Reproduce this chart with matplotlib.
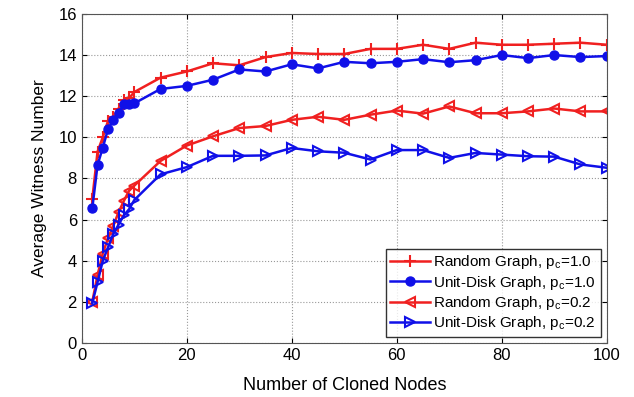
import matplotlib.pyplot as plt
import numpy as np

plt.rcParams['font.family'] = ['Liberation Sans', 'DejaVu Sans']

# number of cloned nodes
nodes = [2, 3, 4, 5, 6, 7, 8, 9, 10, 15, 20, 25, 30, 35, 40, 45, 50,
         55, 60, 65, 70, 75, 80, 85, 90, 95, 100]

rand_10 = [7.0, 9.3, 10.0, 10.8, 11.0, 11.4, 11.8, 11.9, 12.2, 12.9, 13.2, 13.6, 13.5, 13.9,
           14.1, 14.05, 14.05, 14.3, 14.3, 14.5, 14.3, 14.6, 14.5, 14.5, 14.55, 14.6, 14.5]
disk_10 = [6.55, 8.65, 9.5, 10.4, 10.85, 11.2, 11.6, 11.6, 11.65, 12.35, 12.5, 12.8, 13.3, 13.2,
           13.55, 13.35, 13.67, 13.6, 13.67, 13.8, 13.65, 13.75, 14.0, 13.85, 14.0, 13.9, 13.95]
rand_02 = [2.0, 3.3, 4.35, 5.1, 5.7, 6.35, 6.9, 7.4, 7.65, 8.85, 9.6, 10.05, 10.45, 10.55,
           10.85, 11.0, 10.85, 11.1, 11.3, 11.15, 11.5, 11.17, 11.17, 11.26, 11.4, 11.26, 11.26]
disk_02 = [1.95, 2.95, 4.0, 4.65, 5.3, 5.75, 6.2, 6.5, 6.95, 8.2, 8.55, 9.1, 9.1, 9.12,
           9.48, 9.32, 9.25, 8.92, 9.38, 9.38, 9.0, 9.24, 9.16, 9.08, 9.06, 8.68, 8.52]

labels = [r'Random Graph, p$_\mathregular{c}$=1.0',
          r'Unit-Disk Graph, p$_\mathregular{c}$=1.0',
          r'Random Graph, p$_\mathregular{c}$=0.2',
          r'Unit-Disk Graph, p$_\mathregular{c}$=0.2']

fig = plt.figure(figsize=(6.34, 3.97), dpi=100)
ax = fig.add_axes([0.129, 0.136, 0.828, 0.829])

ax.plot(nodes, rand_10, color='#f02020', marker='+', ms=8, mew=1.5, lw=1.8, label=labels[0])
ax.plot(nodes, disk_10, color='#1010e8', marker='o', ms=6.5, lw=1.8, label=labels[1])
ax.plot(nodes, rand_02, color='#f02020', marker='<', ms=7, mew=1.5, mfc='none', lw=1.8, label=labels[2])
ax.plot(nodes, disk_02, color='#1010e8', marker='>', ms=7, mew=1.5, mfc='none', lw=1.8, label=labels[3])

ax.set_xlim(0, 100)
ax.set_ylim(0, 16)
ax.set_xticks(np.arange(0, 101, 20))
ax.set_yticks(np.arange(0, 17, 2))
ax.grid(True, linestyle=':', color='#999999', lw=0.8)
ax.tick_params(direction='in', labelsize=12, top=True, right=True)
for s in ax.spines.values():
    s.set_color('#555555')

ax.set_xlabel('Number of Cloned Nodes', fontsize=13, labelpad=10)
ax.set_ylabel('Average Witness Number', fontsize=12.5, labelpad=8)

leg = ax.legend(loc='lower right', fontsize=11, fancybox=False, edgecolor='black',
                handlelength=2.6, borderpad=0.3, labelspacing=0.15, handletextpad=0.2,
                borderaxespad=0.4)
leg.get_frame().set_linewidth(1.0)

fig.savefig('out.png', dpi=100)
